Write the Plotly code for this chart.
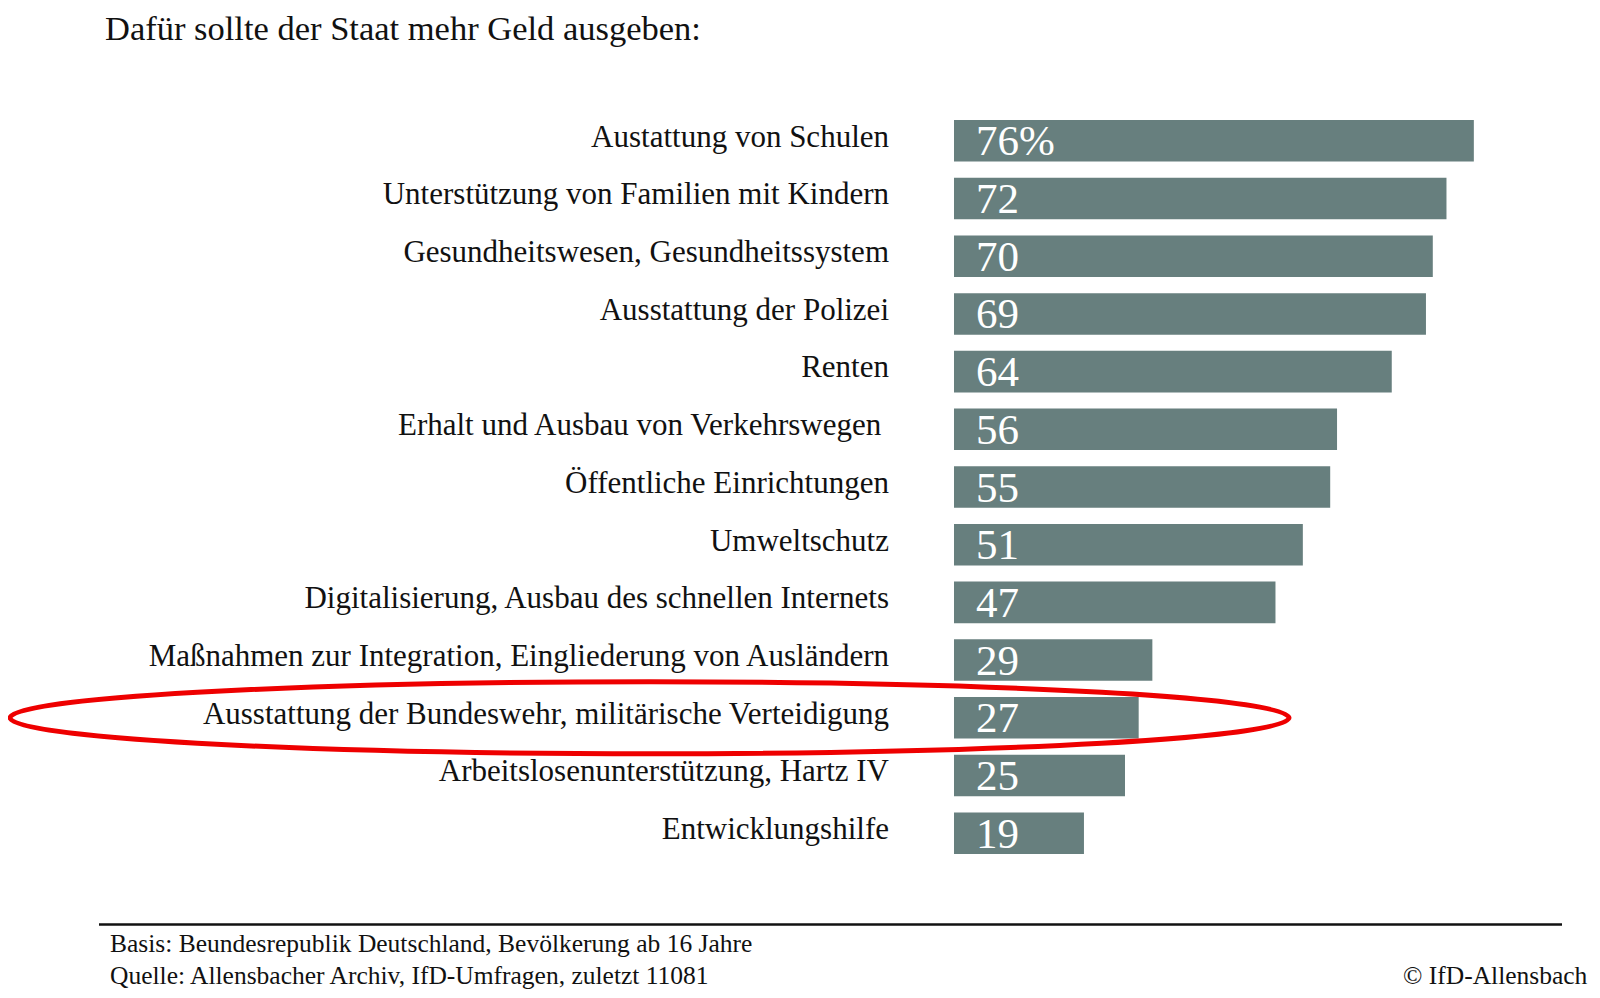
import plotly.graph_objects as go

categories = [
    "Austattung von Schulen",
    "Unterstützung von Familien mit Kindern",
    "Gesundheitswesen, Gesundheitssystem",
    "Ausstattung der Polizei",
    "Renten",
    "Erhalt und Ausbau von Verkehrswegen\u00a0",
    "Öffentliche Einrichtungen",
    "Umweltschutz",
    "Digitalisierung, Ausbau des schnellen Internets",
    "Maßnahmen zur Integration, Eingliederung von Ausländern",
    "Ausstattung der Bundeswehr, militärische Verteidigung",
    "Arbeitslosenunterstützung, Hartz IV",
    "Entwicklungshilfe",
]
values = [76, 72, 70, 69, 64, 56, 55, 51, 47, 29, 27, 25, 19]
value_labels = ["76%"] + [str(v) for v in values[1:]]
highlight = "Ausstattung der Bundeswehr, militärische Verteidigung"

title_text = "Dafür sollte der Staat mehr Geld ausgeben:"
footer_basis = "Basis: Beundesrepublik Deutschland, Bevölkerung ab 16 Jahre"
footer_quelle = "Quelle: Allensbacher Archiv, IfD-Umfragen, zuletzt 11081"
footer_copy = "© IfD-Allensbach"

BAR = "#677f7e"
SERIF = "Liberation Serif"

OFF = 8  # page body margin
W, H = 1600 - OFF, 998 - OFF
L, R = 954 - OFF, 30
T, B = 112 - OFF, 144 - OFF
pw = W - L - R
ph = H - T - B

def py(px):  # window pixel y -> paper y
    return (H - B - (px - OFF)) / ph

def pxx(px):  # window pixel x -> paper x
    return (px - OFF - L) / pw

fig = go.Figure(go.Bar(
    x=values, y=categories, orientation="h",
    marker=dict(color=BAR, line=dict(width=0)),
    width=0.72, hoverinfo="skip",
))

for c, v, t in zip(categories, values, value_labels):
    fig.add_annotation(x=0, y=c, xref="x", yref="y", text=t, showarrow=False,
                       xanchor="left", yanchor="middle", xshift=20, yshift=0,
                       font=dict(family=SERIF, size=43, color="white"))

# red ellipse around the highlighted row (centre from its category position)
hi = categories.index(highlight)
yc = 1 - (hi + 0.5) / len(categories)
fig.add_shape(type="circle", xref="paper", yref="paper",
              x0=pxx(10), x1=pxx(1289), y0=yc - 36 / ph, y1=yc + 36 / ph,
              line=dict(color="#ee0000", width=5))

fig.add_shape(type="line", xref="paper", yref="paper",
              x0=pxx(99), x1=pxx(1562), y0=py(924.5), y1=py(924.5),
              line=dict(color="#111111", width=2.5))

fig.add_annotation(xref="paper", yref="paper", x=pxx(108), y=py(943), text=footer_basis,
                   showarrow=False, xanchor="left", yanchor="middle",
                   font=dict(family=SERIF, size=25.5, color="#111"))
fig.add_annotation(xref="paper", yref="paper", x=pxx(108), y=py(975), text=footer_quelle,
                   showarrow=False, xanchor="left", yanchor="middle",
                   font=dict(family=SERIF, size=25.5, color="#111"))
fig.add_annotation(xref="paper", yref="paper", x=pxx(1590), y=py(975), text=footer_copy,
                   showarrow=False, xanchor="right", yanchor="middle",
                   font=dict(family=SERIF, size=25.5, color="#111"))

fig.update_layout(
    width=W, height=H,
    margin=dict(l=L, r=R, t=T, b=B, autoexpand=False),
    paper_bgcolor="white", plot_bgcolor="white",
    showlegend=False,
    title=dict(text=title_text, xref="container", yref="container",
               x=(105 - OFF) / W, y=1 - (28 - OFF) / H, xanchor="left", yanchor="middle",
               font=dict(family=SERIF, size=34.5, color="#111")),
    xaxis=dict(range=[0, pw / 6.84], visible=False, fixedrange=True),
    yaxis=dict(autorange="reversed", showgrid=False, zeroline=False, showline=False,
               ticks="", ticklabelstandoff=64, ticklabelshift=5, automargin=False,
               tickfont=dict(family=SERIF, size=31, color="#111")),
)

fig.write_html("out.html")
